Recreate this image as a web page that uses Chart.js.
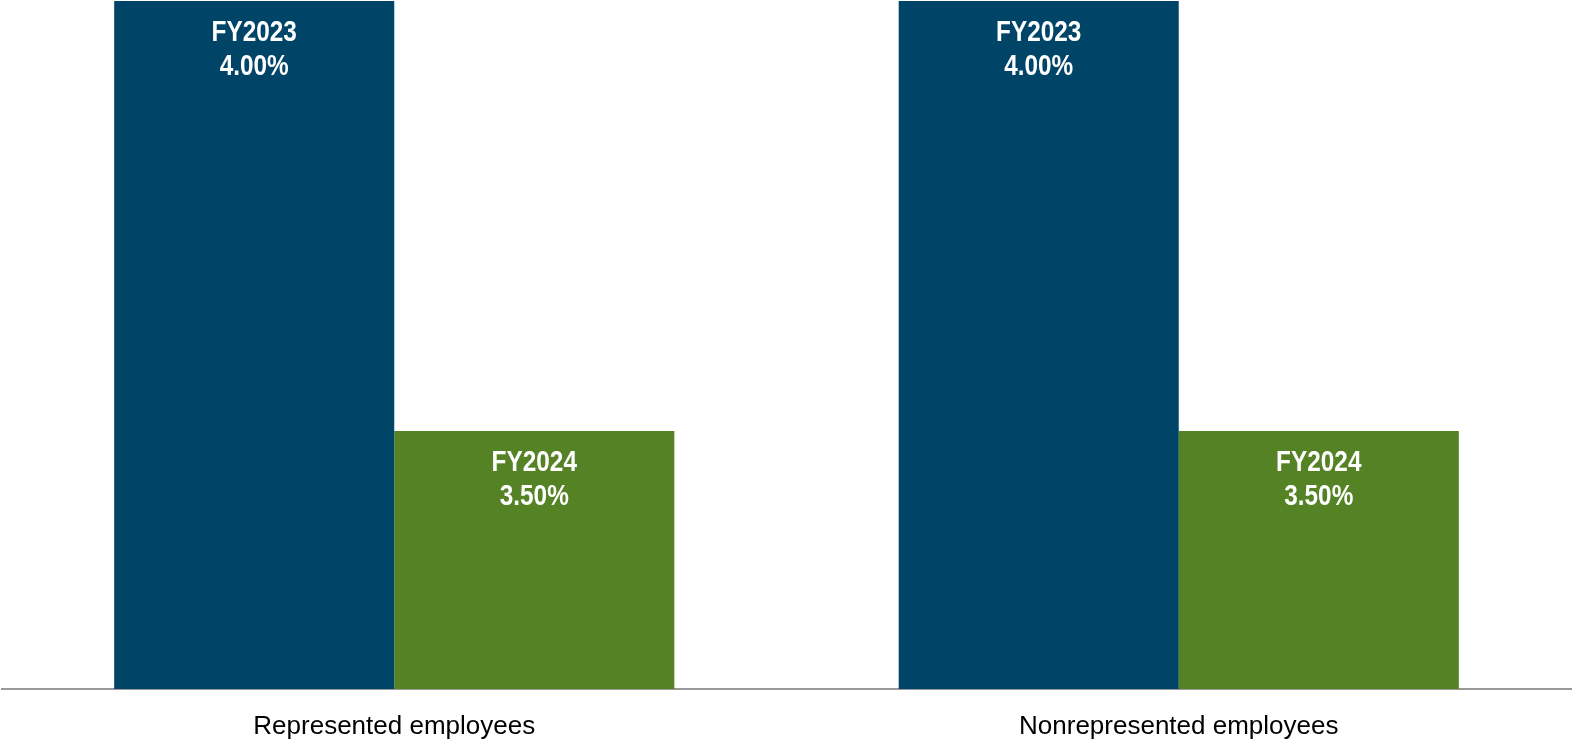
<!DOCTYPE html>
<html>
<head>
<meta charset="utf-8">
<script src="https://cdn.jsdelivr.net/npm/chart.js@4"></script>
<style>
  html, body { margin: 0; padding: 0; background: #fff; }
  #wrap { width: 1573px; height: 744px; }
</style>
</head>
<body>
<div id="wrap"><canvas id="chart"></canvas></div>
<script>
// Chart data
const categories = ['Represented employees', 'Nonrepresented employees'];
const seriesNames = ['FY2023', 'FY2024'];
const fy2023Values = [4.00, 4.00];
const fy2024Values = [3.50, 3.50];
const axisMin = 3.2;
const axisMax = 4.0;

const FONT = "'Liberation Sans Narrow', 'Arial Narrow', 'Liberation Sans', Arial, sans-serif";

// Draws "FY2023 / 4.00%" inside the top of every bar (squeezed a bit, like a narrow face)
const barLabels = {
    id: 'barLabels',
    afterDatasetsDraw(chart) {
        const ctx = chart.ctx;
        const squeeze = 0.84;
        ctx.save();
        ctx.fillStyle = '#ffffff';
        ctx.font = 'bold 29px ' + FONT;
        ctx.textAlign = 'center';
        ctx.textBaseline = 'middle';
        chart.data.datasets.forEach((ds, i) => {
            chart.getDatasetMeta(i).data.forEach((bar, j) => {
                ctx.save();
                ctx.translate(bar.x, bar.y);
                ctx.scale(squeeze, 1);
                ctx.fillText(ds.label, 0, 32);
                ctx.fillText(ds.data[j].toFixed(2) + '%', 0, 66);
                ctx.restore();
            });
        });
        ctx.restore();
    }
};

new Chart(document.getElementById('chart'), {
    type: 'bar',
    data: {
        labels: categories,
        datasets: [
            {
                label: seriesNames[0],
                data: fy2023Values,
                backgroundColor: '#004468',
                barPercentage: 1,
                categoryPercentage: 0.714
            },
            {
                label: seriesNames[1],
                data: fy2024Values,
                backgroundColor: '#548224',
                barPercentage: 1,
                categoryPercentage: 0.714
            }
        ]
    },
    options: {
        responsive: true,
        maintainAspectRatio: false,
        animation: false,
        layout: {
            padding: { left: 2, right: 2, top: 1, bottom: 0 }
        },
        plugins: {
            legend: { display: false },
            tooltip: { enabled: false }
        },
        scales: {
            x: {
                grid: { display: false },
                border: { color: '#999999', width: 2 },
                ticks: {
                    color: '#000000',
                    font: { family: FONT, size: 26 },
                    padding: 14
                },
                afterFit(scale) {
                    scale.height = 55;
                }
            },
            y: {
                display: false,
                min: axisMin,
                max: axisMax
            }
        }
    },
    plugins: [barLabels]
});
</script>
</body>
</html>
